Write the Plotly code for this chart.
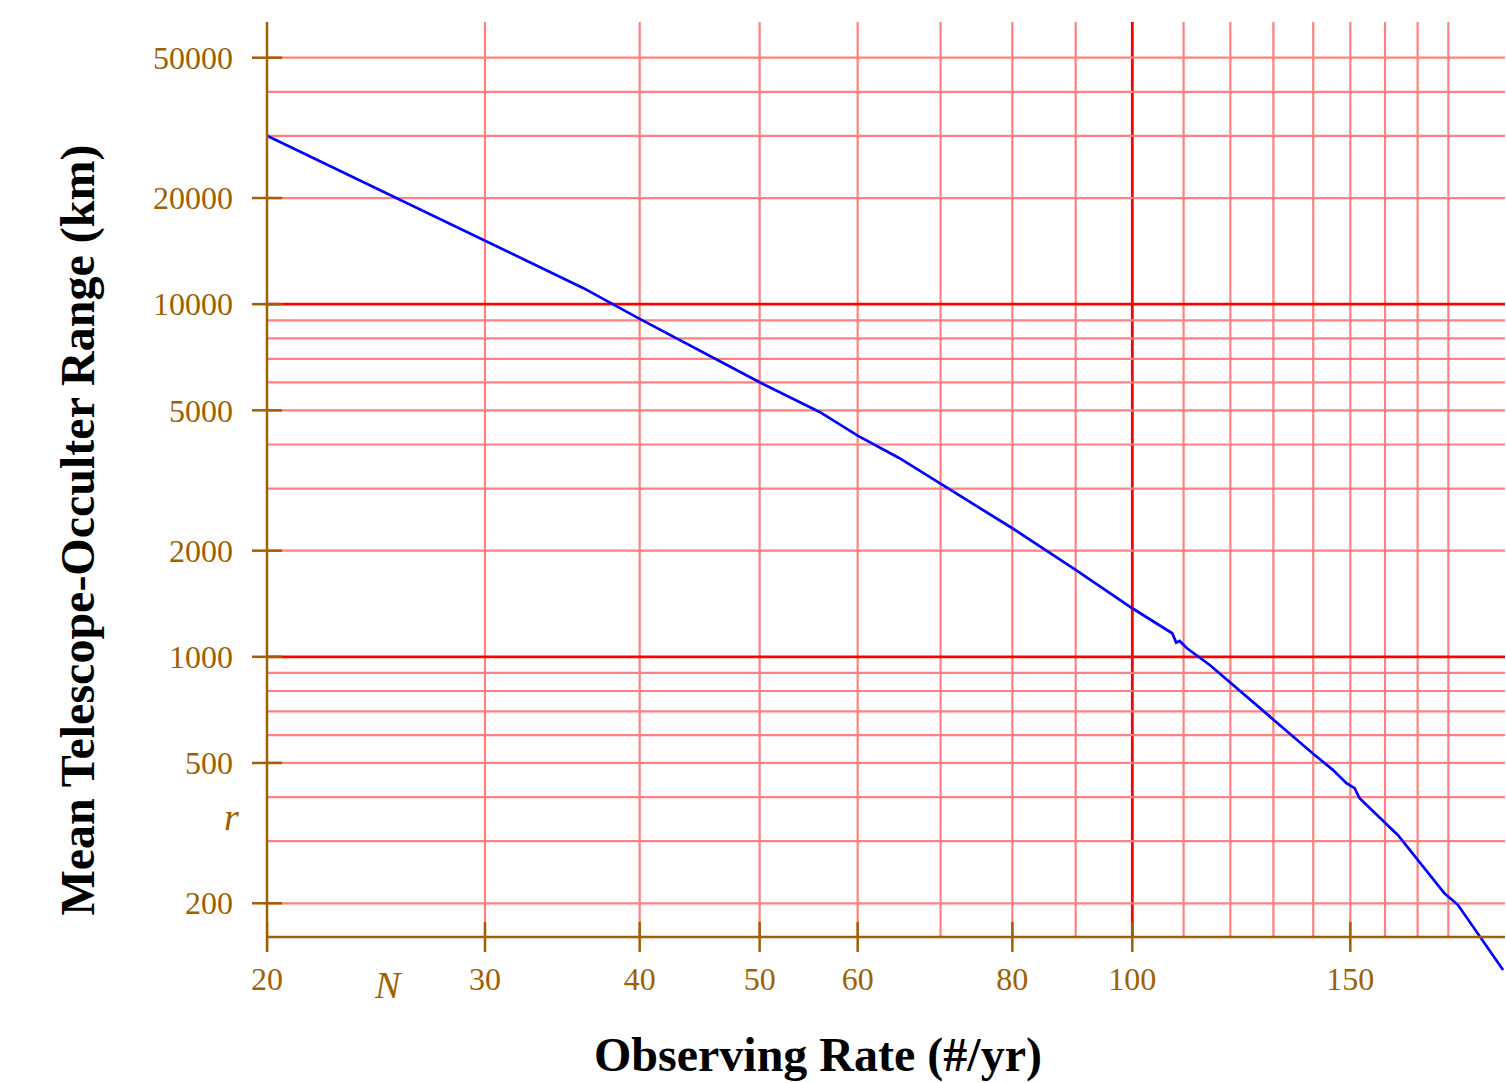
import math
import plotly.graph_objects as go

# ---------------- data ----------------
observing_rate = [20, 36.0, 40, 50, 55.9, 60, 64.8, 70, 80, 90, 100,
                  107.7, 108.5, 109.2, 110.7, 115.5, 120.6, 129.9, 139.9, 145.2,
                  148.9, 151.2, 152.6, 163.9, 169.6, 178.7, 183.2, 199.3]
mean_range_km = [30060, 11120, 9082, 6005, 4948, 4239, 3664, 3092,
                 2315, 1763, 1373, 1166, 1097, 1109, 1057, 948, 832, 662, 532, 478,
                 438, 424, 397, 312, 268, 213.5, 198, 129.4]

x_tick_vals = [20, 30, 40, 50, 60, 80, 100, 150]
y_tick_vals = [200, 500, 1000, 2000, 5000, 10000, 20000, 50000]
x_grid_minor = [30, 40, 50, 60, 70, 80, 90, 110, 120, 130, 140, 150, 160, 170, 180]
x_grid_major = [100]
y_grid_minor = [200, 300, 400, 500, 600, 700, 800, 900,
                2000, 3000, 4000, 5000, 6000, 7000, 8000, 9000,
                20000, 30000, 40000, 50000]
y_grid_major = [1000, 10000]

X_MIN, X_MAX = 20, 200
Y_CROSS = 160.5          # where the horizontal axis crosses
Y_TOP = 63130
Y_BOTTOM = 124.4

# ---------------- style ----------------
BROWN = "#a05f00"
LIGHT_RED = "#ff8080"
RED = "#ff0000"
SERIF = "Liberation Serif"
PLOT_W, PLOT_H = 1238, 954
TICK_PX = 15

ly_lo, ly_hi = math.log10(Y_BOTTOM), math.log10(Y_TOP)
x_axis_pos = (math.log10(Y_CROSS) - ly_lo) / (ly_hi - ly_lo)

fig = go.Figure()
fig.add_trace(go.Scatter(x=observing_rate, y=mean_range_km, mode="lines",
                         line=dict(color="#0000ff", width=2.7),
                         hoverinfo="x+y", showlegend=False))

shapes = []
for v in x_grid_minor + x_grid_major:
    major = v in x_grid_major
    shapes.append(dict(type="line", xref="x", yref="y", x0=v, x1=v, y0=Y_CROSS, y1=Y_TOP,
                       layer="below",
                       line=dict(color=RED if major else LIGHT_RED, width=2.8 if major else 2.2)))
for v in y_grid_minor + y_grid_major:
    major = v in y_grid_major
    shapes.append(dict(type="line", xref="x", yref="y", x0=X_MIN, x1=X_MAX, y0=v, y1=v,
                       layer="below",
                       line=dict(color=RED if major else LIGHT_RED, width=2.8 if major else 2.2)))
# axis lines
shapes.append(dict(type="line", xref="x", yref="y", x0=X_MIN, x1=X_MAX, y0=Y_CROSS, y1=Y_CROSS,
                   line=dict(color=BROWN, width=2.5)))
shapes.append(dict(type="line", xref="paper", yref="paper", x0=0, x1=0,
                   y0=x_axis_pos - TICK_PX / PLOT_H, y1=1,
                   line=dict(color=BROWN, width=2.5)))
# tick marks crossing the axes
for v in x_tick_vals:
    shapes.append(dict(type="line", xref="x", yref="paper", x0=v, x1=v,
                       y0=x_axis_pos - TICK_PX / PLOT_H, y1=x_axis_pos + TICK_PX / PLOT_H,
                       line=dict(color=BROWN, width=2.5)))
for v in y_tick_vals:
    shapes.append(dict(type="line", xref="paper", yref="y", y0=v, y1=v,
                       x0=-TICK_PX / PLOT_W, x1=TICK_PX / PLOT_W,
                       line=dict(color=BROWN, width=2.5)))

fig.update_layout(
    width=1506, height=1083,
    margin=dict(l=267, r=1, t=22, b=107),
    paper_bgcolor="white", plot_bgcolor="white",
    shapes=shapes,
    xaxis=dict(type="log", range=[math.log10(X_MIN), math.log10(X_MAX)],
               showgrid=False, zeroline=False, showline=False, ticks="",
               tickmode="array", tickvals=x_tick_vals,
               ticktext=[str(v) for v in x_tick_vals],
               tickfont=dict(family=SERIF, size=32, color=BROWN),
               anchor="free", position=x_axis_pos, ticklabelstandoff=20),
    yaxis=dict(type="log", range=[ly_lo, ly_hi],
               showgrid=False, zeroline=False, showline=False, ticks="",
               tickmode="array", tickvals=y_tick_vals,
               ticktext=[str(v) for v in y_tick_vals],
               tickfont=dict(family=SERIF, size=32, color=BROWN),
               ticklabelstandoff=33),
    annotations=[
        dict(text="<b>Observing Rate (#/yr)</b>", xref="paper", yref="paper",
             x=0.4451, y=-0.0828, xanchor="center", yanchor="middle", showarrow=False,
             font=dict(family=SERIF, size=48, color="black")),
        dict(text="<b>Mean Telescope-Occulter Range (km)</b>", xref="paper", yref="paper",
             x=-0.153, y=0.4675, xanchor="center", yanchor="middle", showarrow=False,
             textangle=-90, font=dict(family=SERIF, size=48, color="black")),
        dict(text="<i>r</i>", xref="paper", yref="paper", x=-0.0283, y=0.1667,
             xanchor="center", yanchor="middle", showarrow=False,
             font=dict(family=SERIF, size=38, color=BROWN)),
        dict(text="<i>N</i>", xref="paper", yref="paper", x=0.0985, y=-0.0094,
             xanchor="center", yanchor="middle", showarrow=False,
             font=dict(family=SERIF, size=38, color=BROWN)),
    ],
)

fig.write_html("out.html")
